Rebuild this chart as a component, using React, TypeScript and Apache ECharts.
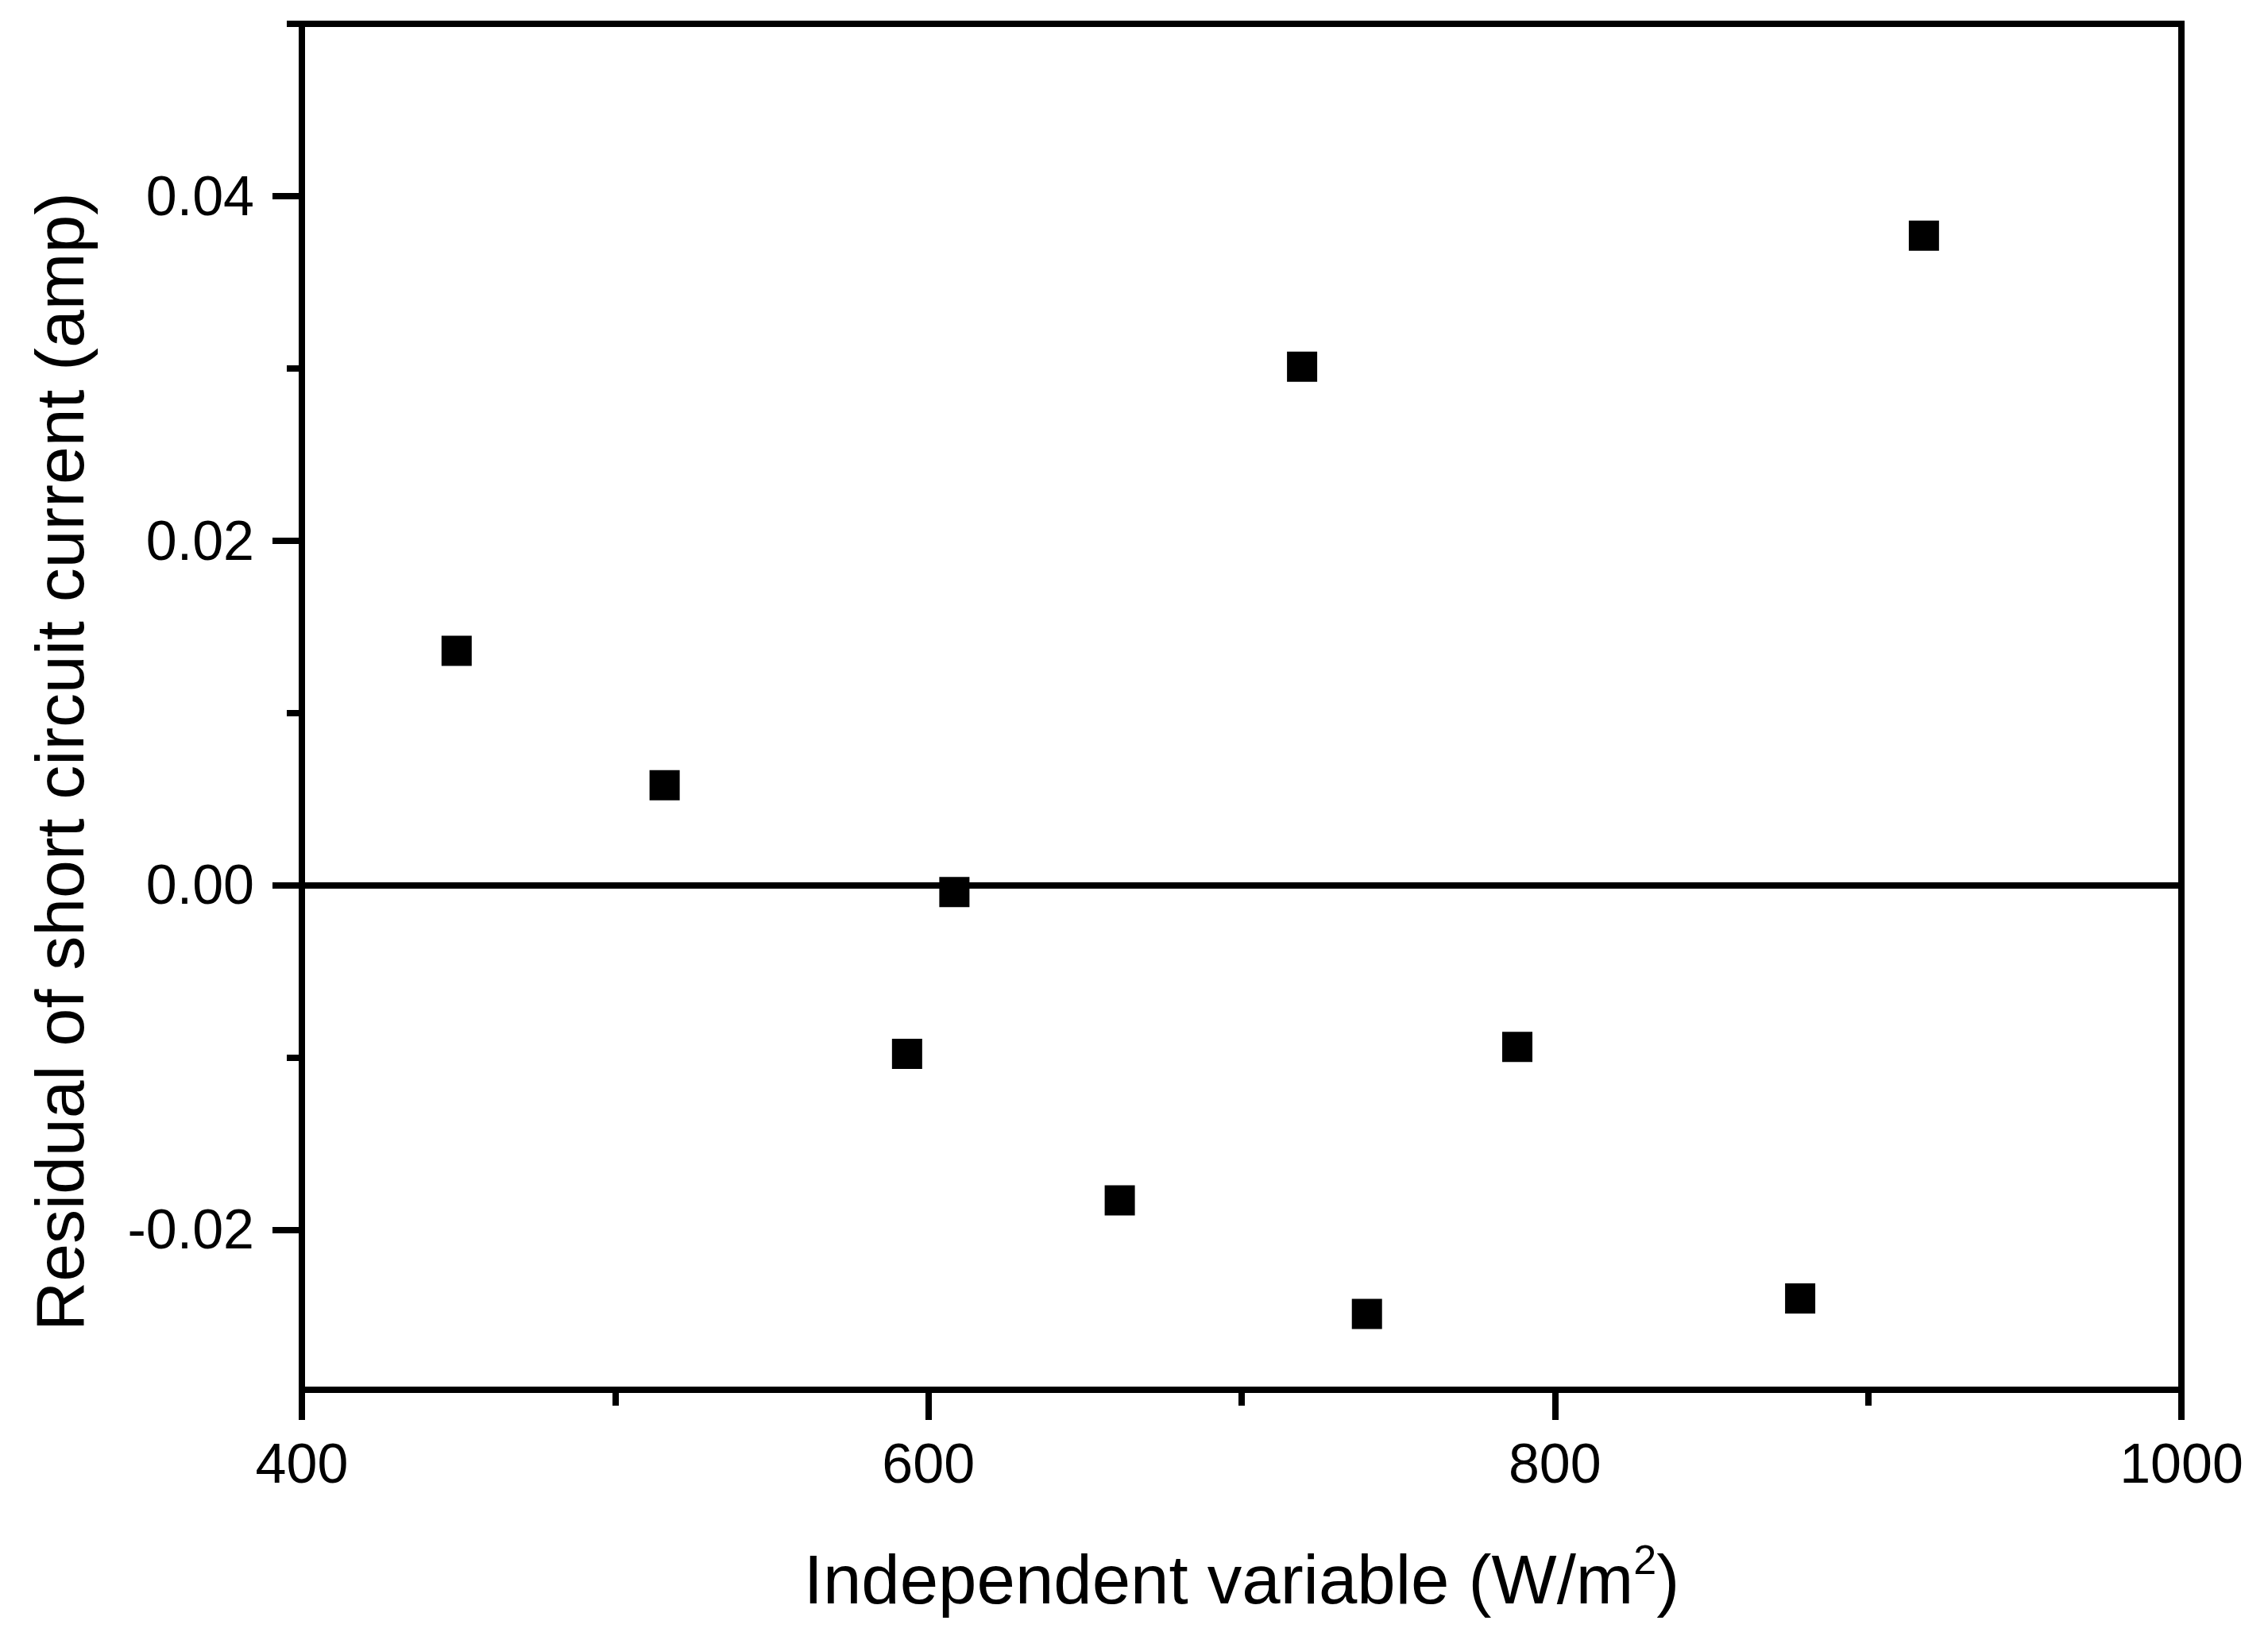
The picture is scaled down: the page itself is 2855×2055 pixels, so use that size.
import React, { useEffect, useRef } from "react";
import * as echarts from "echarts";

// Data
const xValues = [449.4, 515.8, 608.3, 593.2, 661.1, 719.3, 740.0, 788.0, 878.3, 917.8];
const yValues = [0.0136, 0.0058, -0.0004, -0.0098, -0.0183, 0.0301, -0.0249, -0.0094, -0.024, 0.0377];
const yMajorTicks = [-0.02, 0, 0.02, 0.04];
const yMinorTicks = [-0.01, 0.01, 0.03, 0.05];
const xTitle = "Independent variable (W/m{sup|2})";
const yTitle = "Residual of short circuit current (amp)";

const FONT = "'Liberation Sans', Arial, sans-serif";

export default function App() {
  const ref = useRef<HTMLDivElement>(null);

  useEffect(() => {
    if (!ref.current) return;
    const chart = echarts.init(ref.current, undefined, { renderer: "svg" });
    const points = xValues.map((x, i) => [x, yValues[i]]);
    chart.setOption({
      animation: false,
      backgroundColor: "#ffffff",
      grid: {
        left: 380,
        right: 109,
        top: 30,
        bottom: 305,
        show: true,
        borderColor: "#000",
        borderWidth: 8,
      },
      xAxis: {
        type: "value",
        min: 400,
        max: 1000,
        interval: 200,
        name: xTitle,
        nameLocation: "middle",
        nameGap: 188,
        nameTextStyle: {
          fontFamily: FONT,
          fontSize: 87,
          color: "#000",
          lineHeight: 100,
          rich: {
            sup: { fontFamily: FONT, fontSize: 52, color: "#000", verticalAlign: "top", lineHeight: 100, padding: [0, 0, 40, 0] },
          },
        },
        axisLine: { show: true, onZero: false, lineStyle: { color: "#000", width: 8 } },
        axisTick: { show: true, inside: false, length: 38, lineStyle: { color: "#000", width: 8 } },
        minorTick: { show: true, splitNumber: 2, length: 20, lineStyle: { color: "#000", width: 8 } },
        axisLabel: {
          fontFamily: FONT,
          fontSize: 70,
          color: "#000",
          margin: 58,
          formatter: (v: number) => String(v),
        },
        splitLine: { show: false },
      },
      yAxis: [
        {
          type: "value",
          min: -0.0293,
          max: 0.05,
          name: yTitle,
          nameLocation: "middle",
          nameGap: 262,
          nameTextStyle: { fontFamily: FONT, fontSize: 86, color: "#000", padding: [0, 138, 0, 0] },
          axisLine: { show: true, lineStyle: { color: "#000", width: 8 } },
          axisTick: { show: true, inside: false, length: 37, customValues: yMajorTicks, lineStyle: { color: "#000", width: 8 } },
          axisLabel: {
            fontFamily: FONT,
            fontSize: 70,
            color: "#000",
            margin: 60,
            customValues: yMajorTicks,
            formatter: (v: number) => v.toFixed(2),
          },
          splitLine: { show: false },
        },
        {
          type: "value",
          min: -0.0293,
          max: 0.05,
          position: "left",
          axisLine: { show: false },
          axisTick: { show: true, inside: false, length: 19, customValues: yMinorTicks, lineStyle: { color: "#000", width: 8 } },
          axisLabel: { show: false },
          splitLine: { show: false },
        },
      ],
      series: [
        {
          type: "scatter",
          data: points,
          symbol: "rect",
          symbolSize: 38,
          itemStyle: { color: "#000", opacity: 1 },
          markLine: {
            silent: true,
            symbol: ["none", "none"],
            label: { show: false },
            lineStyle: { color: "#000", width: 8, type: "solid", opacity: 1 },
            data: [{ yAxis: 0 }],
          },
        },
      ],
    });
    return () => chart.dispose();
  }, []);

  return (
    <div
      ref={ref}
      style={{ position: "fixed", left: 0, top: 0, width: 2855, height: 2055, background: "#fff" }}
    />
  );
}
